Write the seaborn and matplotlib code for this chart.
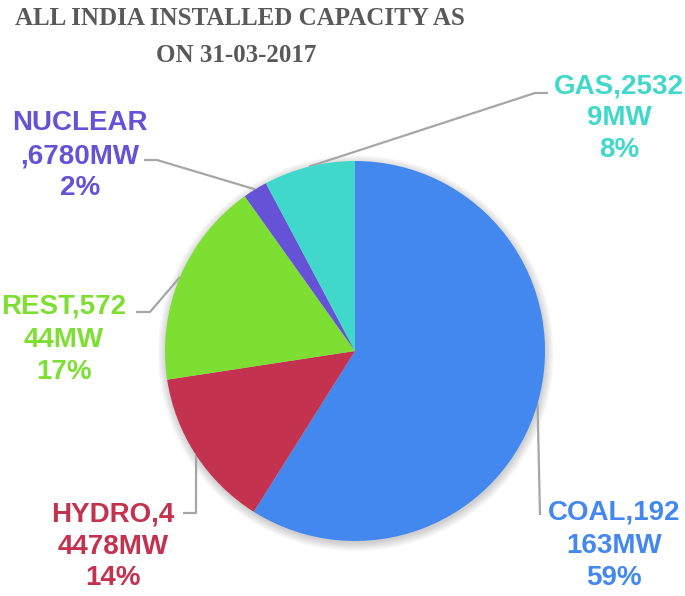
import numpy as np
import matplotlib
matplotlib.use("Agg")
import matplotlib.pyplot as plt
from matplotlib.patches import Circle
import seaborn as sns

sns.set_theme(style="white")
plt.rcParams['font.family'] = ['Liberation Sans', 'DejaVu Sans']

# ---- data ----
categories = ["COAL", "HYDRO", "REST", "NUCLEAR", "GAS"]
capacity_mw = [192163, 44478, 57244, 6780, 25329]
percent_labels = ["59%", "14%", "17%", "2%", "8%"]
label_lines = [
    ["COAL,192", "163MW", "59%"],
    ["HYDRO,4", "4478MW", "14%"],
    ["REST,572", "44MW", "17%"],
    ["NUCLEAR", ",6780MW", "2%"],
    ["GAS,2532", "9MW", "8%"],
]
colors = ["#4388EE", "#C3324F", "#7EDF33", "#6652D7", "#41D8CC"]
title = "ALL INDIA INSTALLED CAPACITY AS\nON 31-03-2017"

W, H = 685, 596
fig = plt.figure(figsize=(W / 100, H / 100), dpi=100)
fig.patch.set_facecolor("white")

cx, cy, R = 355, 351, 190
ax = fig.add_axes([(cx - R) / W, (H - cy - R) / H, 2 * R / W, 2 * R / H])

# soft shadow under the pie
for k in range(8):
    ax.add_patch(Circle((0.004, -0.012), 1.0 + 0.006 * k, color="black",
                        alpha=0.025, lw=0, zorder=0, clip_on=False))

wedges, _ = ax.pie(capacity_mw, colors=colors, startangle=90, counterclock=False,
                   radius=1, wedgeprops=dict(linewidth=0, zorder=2))
ax.set_xlim(-1, 1)
ax.set_ylim(-1, 1)
ax.set_axis_off()

def px2d(px, py):
    return ((px - cx) / R, (cy - py) / R)

# label layout (pixel): center x, baselines, elbow point, end point
layout = [
    dict(x=614, base=[520, 553, 585], elbow=(540, 515), end=(540, 515)),
    dict(x=113, base=[522, 554, 585], elbow=(196, 513), end=(183, 513)),
    dict(x=64, base=[313, 347, 379], elbow=(150, 312), end=(136, 312)),
    dict(x=80, base=[130, 163, 195], elbow=(157, 160), end=(144, 160)),
    dict(x=619, base=[93, 125, 157], elbow=(535, 93), end=(548, 93)),
]

line_color = "#A6A6A6"
for w, lay, lines, col in zip(wedges, layout, label_lines, colors):
    mid = np.deg2rad((w.theta1 + w.theta2) / 2)
    sx, sy = np.cos(mid), np.sin(mid)
    ex, ey = px2d(*lay["elbow"])
    nx, ny = px2d(*lay["end"])
    ax.plot([sx, ex, nx], [sy, ey, ny], color=line_color, lw=1.6, clip_on=False,
            solid_capstyle="butt", zorder=1)
    for txt, b in zip(lines, lay["base"]):
        fig.text(lay["x"] / W, 1 - b / H, txt, ha="center", va="baseline",
                 fontsize=20, fontweight="bold", color=col)

t1, t2 = title.split("\n")
serif = ["Liberation Serif", "DejaVu Serif"]
fig.text(240 / W, 1 - 25 / H, t1, ha="center", va="baseline", fontsize=18,
         fontweight="bold", color="#595959", family=serif)
fig.text(236 / W, 1 - 62 / H, t2, ha="center", va="baseline", fontsize=18,
         fontweight="bold", color="#595959", family=serif)

fig.savefig("out.png", dpi=100, facecolor="white")
